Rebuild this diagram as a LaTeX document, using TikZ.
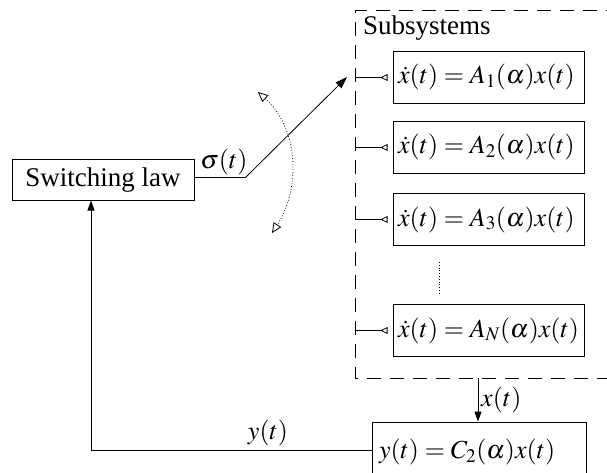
\documentclass[tikz,border=0pt]{standalone}
\usepackage{mathptmx}
\usepackage[no-math]{fontspec}
\setmainfont{Liberation Serif}
\usetikzlibrary{arrows.meta}
\begin{document}
\begin{tikzpicture}[x=1pt,y=-1pt,
  box/.style={draw,line width=1pt,inner sep=1pt,font=\fontsize{26}{31}\selectfont},
  sub/.style={box,text width=181pt,inner xsep=5pt,align=left,minimum height=52pt},
  lbl/.style={inner sep=1pt,font=\fontsize{26}{31}\selectfont},
  wire/.style={line width=0.8pt},
  stub/.style={wire,shorten >=5pt,-{Triangle[open,reversed,length=7pt,width=7pt]}}]
\useasboundingbox (0,0) rectangle (607,473);
% switching law
\node[box,font=\fontsize{27}{31}\selectfont,minimum width=182pt,minimum height=40pt] (sw) at (103,180) {Switching law};
% dashed subsystems frame
\coordinate (dtl) at (355,11);
\coordinate (dbl) at (355,378);
\draw[line width=1pt,dash pattern=on 14pt off 9pt] (620,11) -- (dtl) -- (dbl) -- (620,378);
\node[lbl,font=\fontsize{27}{31}\selectfont,anchor=base west] (subs) at (362,35) {Subsystems};
% subsystem boxes
\node[sub] (s1) at (488.5,77.5) {$\dot{x}(t)=A_1(\alpha)x(t)$};
\node[sub] (s2) at (488.5,147.5) {$\dot{x}(t)=A_2(\alpha)x(t)$};
\node[sub] (s3) at (488.5,219.5) {$\dot{x}(t)=A_3(\alpha)x(t)$};
\node[sub] (sN) at (488.5,330.5) {$\dot{x}(t)=A_N(\alpha)x(t)$};
\coordinate (d1) at (439,262);
\coordinate (d2) at (439,295);
\draw[wire,dotted] (d1) -- (d2);
% stubs
\foreach \n in {s1,s2,s3,sN}{
  \coordinate (c\n) at (\n.west -| dtl);
  \draw[stub] (c\n) -- (\n.west);
}
% switch
\coordinate (sw1) at (246,177);
\coordinate (swtip) at (347,77);
\draw[wire] (sw.east |- sw1) -- (sw1);
\draw[wire,-{Triangle[length=12pt,width=8pt]}] (sw1) -- (swtip);
\node[lbl,anchor=south] (sig) at (224,176) {$\sigma(t)$};
% dotted arc
\coordinate (a1) at (258,92);
\coordinate (a2) at (272,233);
\draw[wire,dotted,{Triangle[open,length=10pt,width=9pt]}-{Triangle[open,length=10pt,width=9pt]}] (a1) .. controls (300,130) and (300,190) .. (a2);
% output
\node[box,text width=200pt,inner xsep=7pt,align=left,minimum height=60pt] (out) at (479,452) {$y(t)=C_2(\alpha)x(t)$};
\coordinate (xs) at (478,378);
\coordinate (xe) at (out.north -| xs);
\draw[wire,-{Triangle[length=10pt,width=7pt]}] (xs) -- (xe);
\node[lbl,anchor=west] (xl) at (480,400) {$x(t)$};
% feedback
\coordinate (fb) at (91,450);
\draw[wire,-{Triangle[length=10pt,width=7pt]}] (out.west |- fb) -- (fb) -- (fb |- sw.south);
\node[lbl,anchor=south] (yl) at (268,447) {$y(t)$};
\end{tikzpicture}
\end{document}
